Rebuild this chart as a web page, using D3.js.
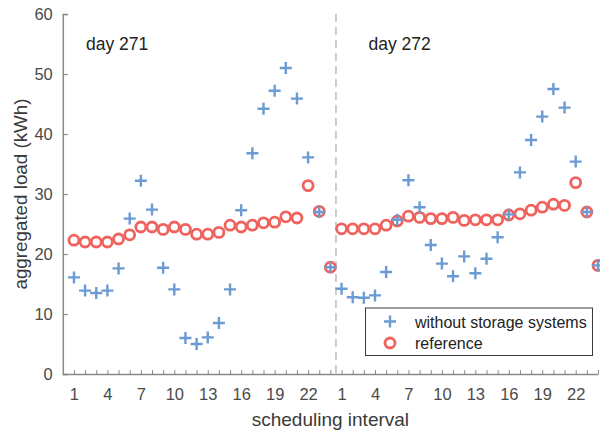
<!DOCTYPE html>
<html>
<head>
<meta charset="utf-8">
<script src="https://cdn.jsdelivr.net/npm/d3@7/dist/d3.min.js"></script>
<style>
  html, body { margin: 0; padding: 0; background: #fff; }
  svg { display: block; font-family: "Liberation Sans", Arial, Helvetica, sans-serif; }
</style>
</head>
<body>
<svg id="chart" width="600" height="432"></svg>
<script>
// Two consecutive days, 24 scheduling intervals each (48 points total)
const intervals = d3.range(1, 49);
const withoutStorage = [
  16.1, 13.9, 13.5, 13.9, 17.6, 25.9, 32.2, 27.4, 17.7, 14.1, 6.0, 5.0,
  6.1, 8.5, 14.1, 27.3, 36.8, 44.2, 47.2, 51.0, 45.9, 36.1, 27.0, 17.8,
  14.2, 12.8, 12.7, 13.1, 17.0, 25.7, 32.3, 27.8, 21.5, 18.4, 16.3, 19.6,
  16.8, 19.2, 22.8, 26.6, 33.6, 39.0, 42.9, 47.5, 44.4, 35.4, 27.0, 18.1
];
const reference = [
  22.3, 22.0, 22.0, 22.0, 22.5, 23.2, 24.5, 24.5, 24.1, 24.5, 24.1, 23.3,
  23.3, 23.6, 24.8, 24.5, 24.8, 25.2, 25.3, 26.2, 26.0, 31.4, 27.1, 17.8,
  24.2, 24.2, 24.2, 24.2, 24.8, 25.5, 26.3, 26.1, 25.9, 25.9, 26.1, 25.6,
  25.7, 25.7, 25.7, 26.5, 26.7, 27.3, 27.8, 28.3, 28.1, 31.9, 27.0, 18.1
];
const yTicks = [0, 10, 20, 30, 40, 50, 60];
const xTickPositions = [1, 4, 7, 10, 13, 16, 19, 22, 25, 28, 31, 34, 37, 40, 43, 46];
const dayLabels = ["day 271", "day 272"];
const seriesNames = ["without storage systems", "reference"];

const blue = "#6b9bd2";
const red = "#f0625d";
const axisGrey = "#8a8a8a";
const textGrey = "#4a4a4a";

const svg = d3.select("#chart");
const margin = { left: 62.8, right: 2, top: 14, bottom: 58 };
const W = 600, H = 432;

const x = d3.scaleLinear().domain([0, 48]).range([margin.left, W - margin.right]);
const y = d3.scaleLinear().domain([0, 60]).range([H - margin.bottom, margin.top]);

// Day separator
svg.append("line")
  .attr("x1", x(24.5)).attr("x2", x(24.5))
  .attr("y1", y(60)).attr("y2", y(0))
  .attr("stroke", "#bdbdbd").attr("stroke-width", 1.5)
  .attr("stroke-dasharray", "8,5");

// Y axis
const yAxis = svg.append("g")
  .attr("transform", `translate(${x(0)},0)`)
  .call(d3.axisLeft(y).tickValues(yTicks).tickSize(-5).tickPadding(10));
yAxis.select(".domain").attr("stroke", axisGrey).attr("stroke-width", 1.5);
yAxis.selectAll(".tick line").attr("stroke", axisGrey).attr("stroke-width", 1.2);
yAxis.selectAll("text").attr("font-size", 16.5).attr("fill", textGrey);

// X axis: minor tick on every interval, labels every third interval of each day
const xAxis = svg.append("g")
  .attr("transform", `translate(0,${y(0)})`)
  .call(d3.axisBottom(x).tickValues(intervals).tickSize(-4).tickSizeOuter(0)
    .tickFormat(() => ""));
xAxis.select(".domain").attr("stroke", axisGrey).attr("stroke-width", 1.5);
xAxis.selectAll(".tick line").attr("stroke", axisGrey).attr("stroke-width", 1);

const xLabels = svg.append("g")
  .attr("transform", `translate(0,${y(0)})`)
  .call(d3.axisBottom(x).tickValues(xTickPositions).tickSize(0).tickPadding(14)
    .tickFormat(d => ((d - 1) % 24) + 1));
xLabels.select(".domain").remove();
xLabels.selectAll("text").attr("font-size", 16.5).attr("fill", textGrey);

// Axis titles
svg.append("text")
  .attr("x", (x(0) + x(48)) / 2).attr("y", 426)
  .attr("text-anchor", "middle").attr("font-size", 19).attr("fill", "#3a3a3a")
  .text("scheduling interval");
svg.append("text")
  .attr("transform", `translate(27,${(y(0) + y(60)) / 2}) rotate(-90)`)
  .attr("text-anchor", "middle").attr("font-size", 18.8).attr("fill", "#3a3a3a")
  .text("aggregated load (kWh)");

// Day annotations
svg.append("text").attr("x", 86).attr("y", 50)
  .attr("font-size", 17.5).attr("fill", "#222").text(dayLabels[0]);
svg.append("text").attr("x", 368.5).attr("y", 50)
  .attr("font-size", 17.5).attr("fill", "#222").text(dayLabels[1]);

const plot = svg.append("g");

// Reference series: hollow circles
plot.selectAll("circle.ref")
  .data(reference)
  .join("circle")
  .attr("class", "ref")
  .attr("cx", (d, i) => x(intervals[i]))
  .attr("cy", d => y(d))
  .attr("r", 5)
  .attr("fill", "none")
  .attr("stroke", red)
  .attr("stroke-width", 2.8);

// Load without storage: plus markers
function plusPath(cx, cy, s) {
  return `M${cx - s},${cy}H${cx + s}M${cx},${cy - s}V${cy + s}`;
}
plot.selectAll("path.wo")
  .data(withoutStorage)
  .join("path")
  .attr("class", "wo")
  .attr("d", (d, i) => plusPath(x(intervals[i]), y(d), 6))
  .attr("fill", "none")
  .attr("stroke", blue)
  .attr("stroke-width", 2.4);

// Legend
const lg = svg.append("g");
lg.append("rect")
  .attr("x", 365.5).attr("y", 308).attr("width", 227).attr("height", 47.5)
  .attr("fill", "#fff").attr("stroke", "#3a3a3a").attr("stroke-width", 1);
lg.append("path")
  .attr("d", plusPath(390, 321.5, 6))
  .attr("stroke", blue).attr("stroke-width", 2.4).attr("fill", "none");
lg.append("circle")
  .attr("cx", 390).attr("cy", 343).attr("r", 5)
  .attr("fill", "none").attr("stroke", red).attr("stroke-width", 2.8);
lg.append("text").attr("x", 415).attr("y", 327.5)
  .attr("font-size", 16).attr("fill", "#222").text(seriesNames[0]);
lg.append("text").attr("x", 415).attr("y", 349)
  .attr("font-size", 16).attr("fill", "#222").text(seriesNames[1]);
</script>
</body>
</html>
